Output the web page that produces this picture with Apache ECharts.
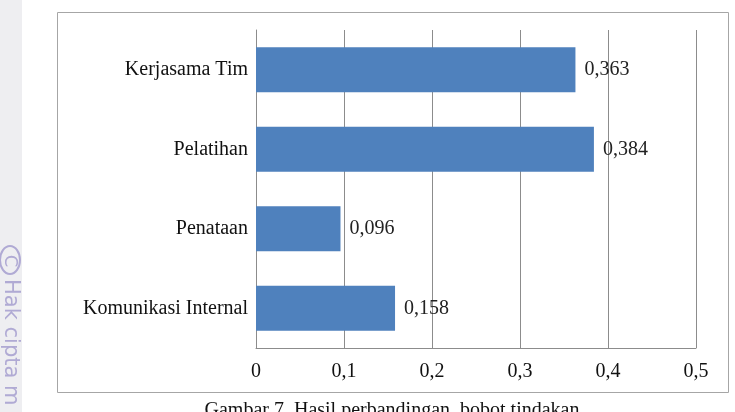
<!DOCTYPE html>
<html>
<head>
<meta charset="utf-8">
<script src="https://cdn.jsdelivr.net/npm/echarts@6/dist/echarts.min.js"></script>
<style>html,body{margin:0;padding:0;background:#fff;}#c{width:735px;height:412px;}</style>
</head>
<body>
<div id="c"></div>
<script>
var categories = ['Kerjasama Tim', 'Pelatihan', 'Penataan', 'Komunikasi Internal'];
var values = [0.363, 0.384, 0.096, 0.158];
var tickLabels = ['0', '0,1', '0,2', '0,3', '0,4', '0,5'];
var caption = 'Gambar 7. Hasil perbandingan  bobot tindakan';

var serif = '"Liberation Serif", "Times New Roman", serif';
var chart = echarts.init(document.getElementById('c'), null, {renderer: 'canvas'});
chart.setOption({
  animation: false,
  backgroundColor: '#ffffff',
  grid: {left: 256, right: 39, top: 30, bottom: 64, containLabel: false},
  xAxis: {
    type: 'value', min: 0, max: 0.5, interval: 0.1,
    axisLine: {show: true, lineStyle: {color: '#8c8c8c', width: 1}},
    axisTick: {show: false},
    splitLine: {show: true, lineStyle: {color: '#8c8c8c', width: 1}},
    axisLabel: {
      margin: 14, color: '#111', fontFamily: serif, fontSize: 20,
      formatter: function (v) { return tickLabels[Math.round(v * 10)]; }
    }
  },
  yAxis: {
    type: 'category', data: categories, inverse: true,
    axisLine: {show: true, lineStyle: {color: '#8c8c8c', width: 1}},
    axisTick: {show: false},
    axisLabel: {margin: 8, color: '#111', fontFamily: serif, fontSize: 20}
  },
  series: [{
    type: 'bar', data: values, barWidth: 45,
    itemStyle: {color: '#4f81bd'},
    label: {
      show: true, position: 'right', distance: 9, color: '#222',
      fontFamily: serif, fontSize: 20,
      formatter: function (p) { return p.value.toFixed(3).replace('.', ','); }
    }
  }],
  graphic: [
    {type: 'rect', shape: {x: 57.5, y: 12.5, width: 671, height: 380}, style: {fill: 'none', stroke: '#a6a6a6', lineWidth: 1}, z: -1},
    {type: 'rect', shape: {x: 0, y: 0, width: 22, height: 412}, style: {fill: '#eeeef1'}, z: -2},
    {type: 'ellipse', shape: {cx: 10, cy: 260, rx: 10, ry: 14}, style: {fill: 'none', stroke: '#b0aad4', lineWidth: 2}},
    {type: 'text', x: 10, y: 261, rotation: -Math.PI / 2, style: {text: 'C', fill: '#b0aad4', font: '18px "DejaVu Sans", sans-serif', textAlign: 'center', textVerticalAlign: 'middle'}},
    {type: 'text', x: 10, y: 279, rotation: -Math.PI / 2, style: {text: 'Hak cipta m', fill: '#b0aad4', font: '21px "DejaVu Sans", sans-serif', textAlign: 'left', textVerticalAlign: 'middle'}},
    {type: 'text', x: 392, y: 401, style: {text: caption, fill: '#111', font: '20px ' + serif, textAlign: 'center', textVerticalAlign: 'top'}}
  ]
});
</script>
</body>
</html>
